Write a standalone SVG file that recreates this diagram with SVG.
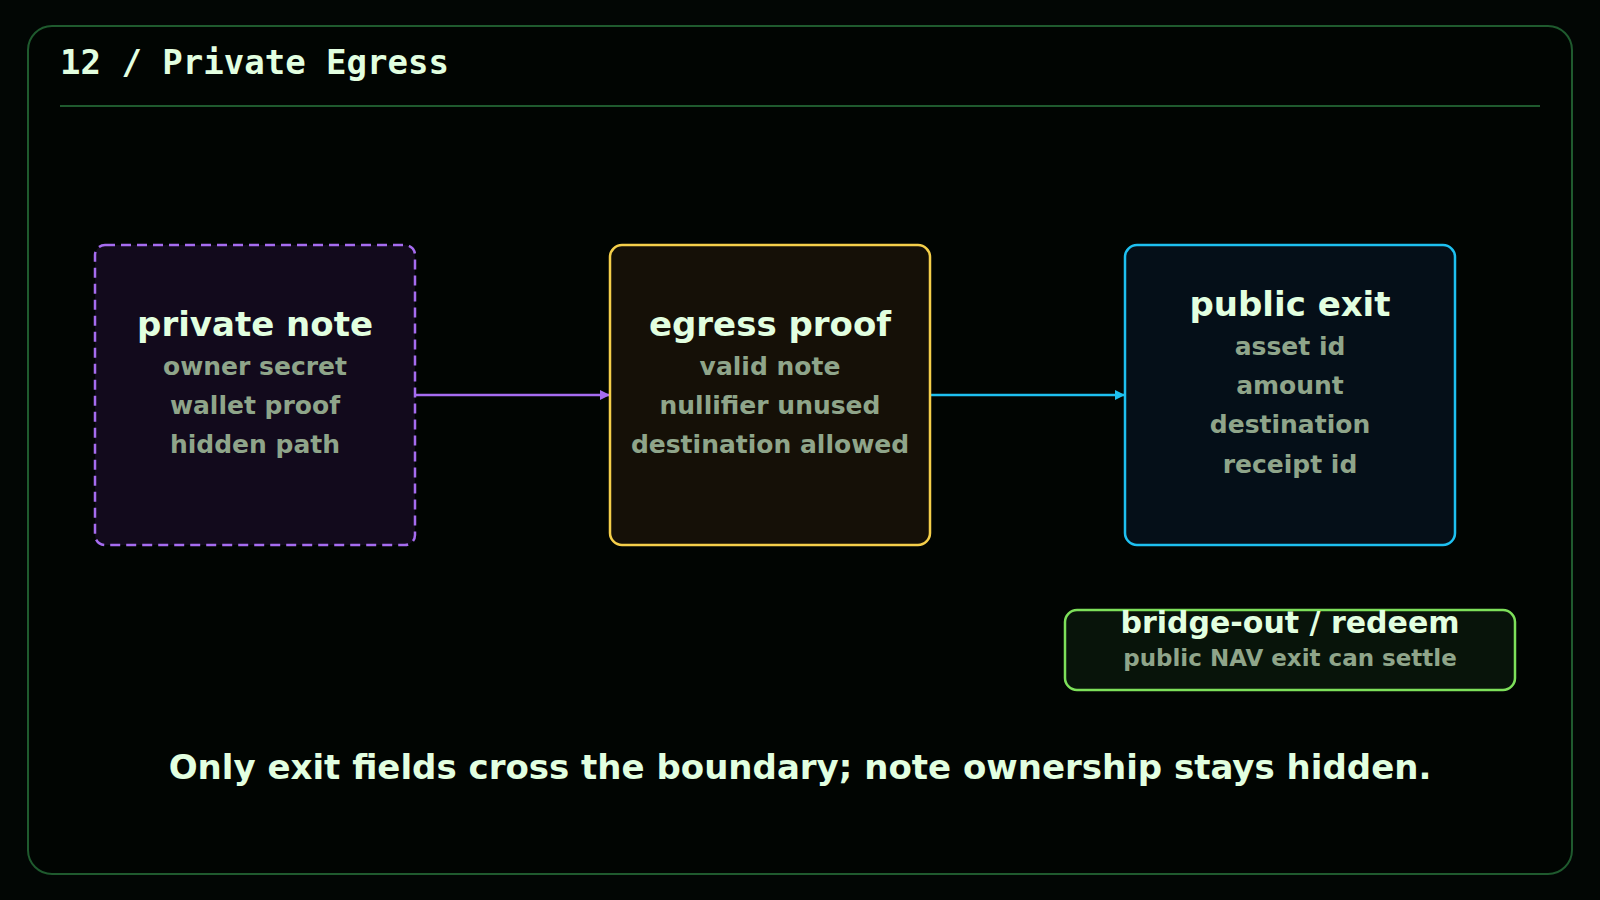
<svg xmlns="http://www.w3.org/2000/svg" width="1600" height="900" viewBox="0 0 1600 900">
<defs>
<style>
.t{font-family:"DejaVu Sans","Liberation Sans",sans-serif;font-weight:bold;text-anchor:middle}
.h{fill:#e2ffe0;font-size:34px}
.s{fill:#8fa58a;font-size:25px}
.e{fill:none;stroke-width:2.5}
</style>
<marker id="ap" viewBox="0 0 10 10" refX="10" refY="5" markerWidth="10" markerHeight="10" markerUnits="userSpaceOnUse" orient="auto"><path d="M0,0L10,5L0,10z" fill="#a66cf0"/></marker>
<marker id="ac" viewBox="0 0 10 10" refX="10" refY="5" markerWidth="10" markerHeight="10" markerUnits="userSpaceOnUse" orient="auto"><path d="M0,0L10,5L0,10z" fill="#1ec0f0"/></marker>
</defs>
<rect width="1600" height="900" fill="#020604"/>
<rect x="28" y="26" width="1544" height="848" rx="24" fill="#010502" stroke="#1f5a2e" stroke-width="2"/>
<text x="60" y="74" font-family="DejaVu Sans Mono,monospace" font-weight="bold" font-size="34" fill="#e2ffe0">12 / Private Egress</text>
<line x1="60" y1="106" x2="1540" y2="106" stroke="#1f5a2e" stroke-width="2"/>
<g id="connectors">
<line x1="415" y1="395" x2="610" y2="395" class="e" stroke="#a66cf0" marker-end="url(#ap)"/>
<line x1="930" y1="395" x2="1125" y2="395" class="e" stroke="#1ec0f0" marker-end="url(#ac)"/>
</g>
<g id="private-note">
<rect x="95" y="245" width="320" height="300" rx="10" fill="#120a1c" stroke="#a66cf0" stroke-width="2.5" stroke-dasharray="10 6"/>
<text class="t h" x="255" y="336">private note</text>
<text class="t s" x="255" y="375">owner secret</text>
<text class="t s" x="255" y="414">wallet proof</text>
<text class="t s" x="255" y="453">hidden path</text>
</g>
<g id="egress-proof">
<rect x="610" y="245" width="320" height="300" rx="12" fill="#151007" stroke="#f5cf4a" stroke-width="2.5"/>
<text class="t h" x="770" y="336">egress proof</text>
<text class="t s" x="770" y="375">valid note</text>
<text class="t s" x="770" y="414">nullifier unused</text>
<text class="t s" x="770" y="453">destination allowed</text>
</g>
<g id="public-exit">
<rect x="1125" y="245" width="330" height="300" rx="12" fill="#050f18" stroke="#1ec0f0" stroke-width="2.5"/>
<text class="t h" x="1290" y="316">public exit</text>
<text class="t s" x="1290" y="355">asset id</text>
<text class="t s" x="1290" y="394">amount</text>
<text class="t s" x="1290" y="433">destination</text>
<text class="t s" x="1290" y="473">receipt id</text>
</g>
<g id="bridge-out">
<rect x="1065" y="610" width="450" height="80" rx="12" fill="#08140a" stroke="#7de05a" stroke-width="2.5"/>
<text class="t h" x="1290" y="633" style="font-size:30px">bridge-out / redeem</text>
<text class="t s" x="1290" y="666" style="font-size:23px">public NAV exit can settle</text>
</g>
<text class="t h" x="800" y="779">Only exit fields cross the boundary; note ownership stays hidden.</text>
</svg>
